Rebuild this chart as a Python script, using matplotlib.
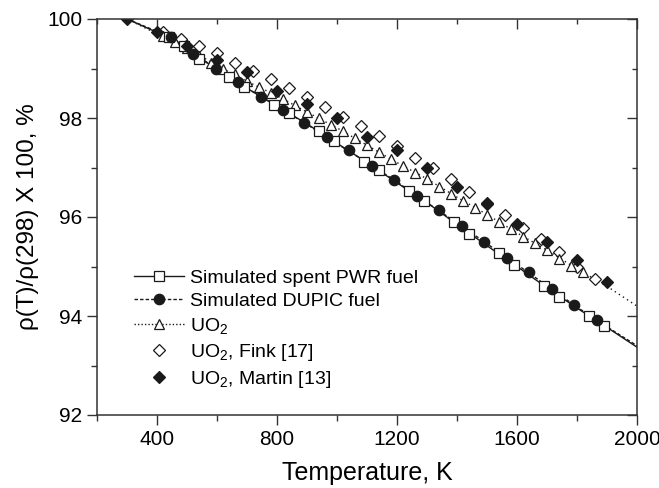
import numpy as np
import matplotlib
matplotlib.use("Agg")
import matplotlib.pyplot as plt
from matplotlib.lines import Line2D
from matplotlib.ticker import MultipleLocator

plt.rcParams.update({"font.family": ["Liberation Sans", "DejaVu Sans"],
                     "mathtext.default": "regular"})

# fitted curves (read at 100 K steps)
T_curve = [300, 400, 500, 600, 700, 800, 900, 1000, 1100, 1200, 1300, 1400,
           1500, 1600, 1700, 1800, 1900, 2000]
pwr_curve = [100.0, 99.73, 99.43, 98.97, 98.60, 98.24, 97.88, 97.49, 97.10, 96.69,
             96.29, 95.85, 95.42, 95.00, 94.57, 94.16, 93.77, 93.37]
dupic_curve = [100.0, 99.75, 99.38, 98.98, 98.60, 98.24, 97.87, 97.48, 97.10, 96.71,
               96.29, 95.88, 95.46, 95.04, 94.61, 94.18, 93.78, 93.40]
uo2_curve = [100.0, 99.70, 99.41, 99.06, 98.74, 98.45, 98.12, 97.80, 97.45, 97.10,
             96.77, 96.40, 96.05, 95.68, 95.33, 94.95, 94.60, 94.20]

# simulated spent PWR fuel (open squares)
T_pwr = [440, 490, 540, 640, 690, 790, 840, 940, 990, 1090, 1140, 1240, 1290,
         1390, 1440, 1540, 1590, 1690, 1740, 1840, 1890]
v_pwr = [99.64, 99.46, 99.20, 98.82, 98.63, 98.27, 98.10, 97.73, 97.53, 97.12,
         96.94, 96.52, 96.33, 95.90, 95.65, 95.27, 95.04, 94.61, 94.39, 94.00, 93.80]

# simulated DUPIC fuel (filled circles)
T_dupic = [445, 520, 595, 670, 745, 820, 890, 965, 1040, 1115, 1190, 1265, 1340,
           1415, 1490, 1565, 1640, 1715, 1790, 1865]
v_dupic = [99.63, 99.29, 99.00, 98.72, 98.43, 98.17, 97.90, 97.61, 97.35, 97.04,
           96.75, 96.43, 96.14, 95.82, 95.50, 95.18, 94.88, 94.55, 94.22, 93.92]

# UO2 (open triangles)
T_uo2 = [420, 460, 500, 540, 580, 620, 660, 700, 740, 780, 820, 860, 900, 940, 980,
         1020, 1060, 1100, 1140, 1180, 1220, 1260, 1300, 1340, 1380, 1420, 1460,
         1500, 1540, 1580, 1620, 1660, 1700, 1740, 1780, 1820]
v_uo2 = [99.65, 99.53, 99.41, 99.25, 99.12, 99.00, 98.88, 98.74, 98.63, 98.51, 98.39,
         98.27, 98.12, 98.00, 97.86, 97.73, 97.59, 97.45, 97.32, 97.17, 97.03, 96.89,
         96.77, 96.61, 96.47, 96.33, 96.18, 96.05, 95.89, 95.76, 95.60, 95.47, 95.33,
         95.16, 95.02, 94.88]

# UO2, Fink [17] (open diamonds)
T_fink = [420, 480, 540, 600, 660, 720, 780, 840, 900, 960, 1020, 1080, 1140, 1200,
          1260, 1320, 1380, 1440, 1500, 1560, 1620, 1680, 1740, 1800, 1860]
v_fink = [99.73, 99.59, 99.46, 99.31, 99.12, 98.94, 98.78, 98.60, 98.43, 98.22, 98.02,
          97.84, 97.64, 97.44, 97.20, 96.98, 96.76, 96.50, 96.29, 96.05, 95.78, 95.56,
          95.30, 95.00, 94.74]

# UO2, Martin [13] (filled diamonds)
T_martin = [300, 400, 500, 600, 700, 800, 900, 1000, 1100, 1200, 1300, 1400, 1500,
            1600, 1700, 1800, 1900]
v_martin = [100.0, 99.73, 99.45, 99.18, 98.92, 98.54, 98.29, 98.00, 97.62, 97.36,
            96.99, 96.60, 96.26, 95.86, 95.50, 95.14, 94.68]

labels = ["Simulated spent PWR fuel", "Simulated DUPIC fuel", r"UO$_2$",
          r"UO$_2$, Fink [17]", r"UO$_2$, Martin [13]"]

INK = "#1a1a1a"
AX = "#333333"
MS = 7.5
fig = plt.figure(figsize=(6.59, 4.88), dpi=100)
ax = fig.add_axes([97 / 659, 73 / 488, 540 / 659, 396 / 488])

ax.plot(T_curve, pwr_curve, color=INK, lw=1.0, ls="-")
ax.plot(T_curve, dupic_curve, color=INK, lw=1.0, ls=(0, (2.5, 1.5)))
ax.plot(T_curve, uo2_curve, color=INK, lw=1.0, ls=(0, (1, 2.5)))

ax.plot(T_fink, v_fink, ls="none", marker="D", mfc="white", mec=INK, mew=0.9, ms=MS - 1)
ax.plot(T_uo2, v_uo2, ls="none", marker="^", mfc="white", mec=INK, mew=0.9, ms=MS)
ax.plot(T_pwr, v_pwr, ls="none", marker="s", mfc="white", mec=INK, mew=0.9, ms=MS - 0.5)
ax.plot(T_martin, v_martin, ls="none", marker="D", mfc=INK, mec=INK, mew=0.9, ms=MS - 1)
ax.plot(T_dupic, v_dupic, ls="none", marker="o", mfc=INK, mec=INK, mew=0.9, ms=MS)

ax.set_xlim(200, 2000)
ax.set_ylim(92, 100)
ax.xaxis.set_major_locator(MultipleLocator(400))
ax.xaxis.set_minor_locator(MultipleLocator(200))
ax.yaxis.set_major_locator(MultipleLocator(2))
ax.yaxis.set_minor_locator(MultipleLocator(1))
ax.tick_params(which="both", direction="out", width=1.0, color=AX,
               labelsize=15, top=False, right=False)
ax.tick_params(which="major", length=7)
ax.tick_params(which="minor", length=4)

top = ax.secondary_xaxis("top")
right = ax.secondary_yaxis("right")
top.xaxis.set_major_locator(MultipleLocator(400))
top.xaxis.set_minor_locator(MultipleLocator(200))
right.yaxis.set_major_locator(MultipleLocator(2))
right.yaxis.set_minor_locator(MultipleLocator(1))
for sec in (top, right):
    sec.tick_params(which="both", direction="in", width=1.0, color=AX,
                    labeltop=False, labelright=False)
    sec.tick_params(which="major", length=7)
    sec.tick_params(which="minor", length=3.5)
    for s in sec.spines.values():
        s.set_visible(False)

for s in ax.spines.values():
    s.set_color(AX)
    s.set_linewidth(1.1)

ax.set_xlabel("Temperature, K", fontsize=18, labelpad=9)
ax.set_ylabel("ρ(T)/ρ(298) X 100, %", fontsize=17.5, labelpad=6)

handles = [
    Line2D([], [], color=INK, lw=1.0, ls="-", marker="s", mfc="white", mec=INK, ms=MS - 0.5, mew=0.9),
    Line2D([], [], color=INK, lw=1.0, ls=(0, (2.5, 1.5)), marker="o", mfc=INK, mec=INK, ms=MS, mew=0.9),
    Line2D([], [], color=INK, lw=1.0, ls=(0, (1, 1.5)), marker="^", mfc="white", mec=INK, ms=MS, mew=0.9),
    Line2D([], [], ls="none", marker="D", mfc="white", mec=INK, ms=MS - 1, mew=0.9),
    Line2D([], [], ls="none", marker="D", mfc=INK, mec=INK, ms=MS - 1, mew=0.9),
]
ax.legend(handles, labels, loc="lower left", bbox_to_anchor=(0.043, 0.03),
          frameon=False, fontsize=14, handlelength=2.6, handletextpad=0.3,
          labelspacing=0.3, borderpad=0.2)

fig.savefig("out.png", dpi=100)
